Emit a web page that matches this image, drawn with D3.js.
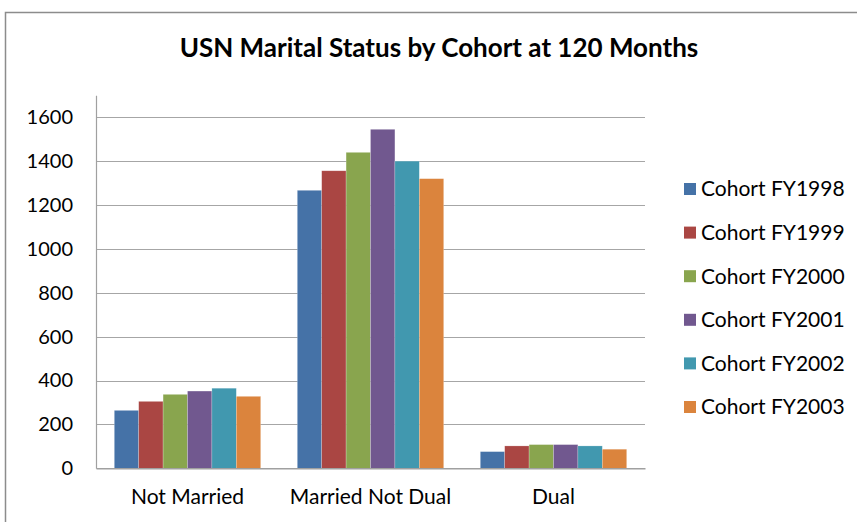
<!DOCTYPE html>
<html><head><meta charset="utf-8">
<script src="https://cdn.jsdelivr.net/npm/d3@7"></script>
<style>body{margin:0;background:#fff}svg{display:block}</style>
</head><body>
<script>
const categories = ["Not Married", "Married Not Dual", "Dual"];
const seriesNames = ["Cohort FY1998", "Cohort FY1999", "Cohort FY2000", "Cohort FY2001", "Cohort FY2002", "Cohort FY2003"];
const fy1998 = [264, 1267, 76];
const fy1999 = [305, 1356, 102];
const fy2000 = [337, 1440, 108];
const fy2001 = [352, 1545, 108];
const fy2002 = [365, 1400, 102];
const fy2003 = [328, 1320, 87];
const seriesValues = [fy1998, fy1999, fy2000, fy2001, fy2002, fy2003];
const yTicks = [0, 200, 400, 600, 800, 1000, 1200, 1400, 1600];
const colors = ["#4572A7", "#AA4643", "#89A54E", "#71588F", "#4198AF", "#DB843D"];
const title = "USN Marital Status by Cohort at 120 Months";

(function () {
const W = 857, H = 522;
const font = "Lato, 'Open Sans', sans-serif";
const svg = d3.select("body").append("svg").attr("width", W).attr("height", H);

svg.append("rect").attr("x", 5.5).attr("y", 12.5).attr("width", W + 10).attr("height", H + 10)
  .attr("fill", "#fff").attr("stroke", "#8c8c8c").attr("stroke-width", 1.5);

svg.append("text").attr("x", 439).attr("y", 57).attr("text-anchor", "middle")
  .attr("font-family", font).attr("font-weight", "bold").attr("font-size", 26)
  .attr("fill", "#000").text(title);

const pL = 96, pR = 645, pT = 95.3, pB = 468.3;
const y = d3.scaleLinear().domain([0, 1700]).range([pB, pT]);
const x0 = d3.scaleBand().domain(categories).range([pL, pR]).paddingInner(0).paddingOuter(0);
const barW = x0.bandwidth() / 7.5;
const x1 = d3.scaleBand().domain(seriesNames).range([barW * 0.75, barW * 6.75]).padding(0);

svg.append("g").selectAll("line").data(yTicks.slice(1)).join("line")
  .attr("x1", pL).attr("x2", pR)
  .attr("y1", d => Math.round(y(d)) + 0.5).attr("y2", d => Math.round(y(d)) + 0.5)
  .attr("stroke", "#a6a6a6").attr("stroke-width", 1.2);

const yAxis = d3.axisLeft(y).tickValues(yTicks).tickFormat(d3.format("d")).tickSize(0).tickPadding(23);
const gy = svg.append("g").attr("transform", `translate(${pL},0)`).call(yAxis);
gy.select(".domain").attr("stroke", "#a0a0a0").attr("stroke-width", 1.2);
gy.selectAll("text").attr("font-family", font).attr("font-size", 20).attr("fill", "#000");

const groups = svg.append("g").selectAll("g").data(categories).join("g")
  .attr("transform", d => `translate(${x0(d)},0)`);
groups.selectAll("rect").data((c, ci) => seriesNames.map((s, si) => ({s, si, v: seriesValues[si][ci]})))
  .join("rect")
  .attr("x", d => x1(d.s)).attr("width", x1.bandwidth())
  .attr("y", d => y(d.v)).attr("height", d => pB - y(d.v))
  .attr("fill", d => colors[d.si])
  .attr("stroke", "rgba(255,255,255,0.35)").attr("stroke-width", 0.6);

const xAxis = d3.axisBottom(x0).tickSize(0).tickPadding(21);
const gx = svg.append("g").attr("transform", `translate(0,${pB})`).call(xAxis);
gx.select(".domain").attr("stroke", "#a0a0a0").attr("stroke-width", 1.5);
gx.selectAll("text").attr("font-family", font).attr("font-size", 21).attr("fill", "#000");

const leg = svg.append("g").selectAll("g").data(seriesNames).join("g")
  .attr("transform", (d, i) => `translate(684,${189 + i * 43.6})`);
leg.append("rect").attr("x", 0).attr("y", -6).attr("width", 12).attr("height", 12)
  .attr("fill", (d, i) => colors[i]);
leg.append("text").attr("x", 17).attr("y", 0).attr("dy", "0.35em")
  .attr("font-family", font).attr("font-size", 21).attr("fill", "#000").text(d => d);
})();
</script>
</body></html>
